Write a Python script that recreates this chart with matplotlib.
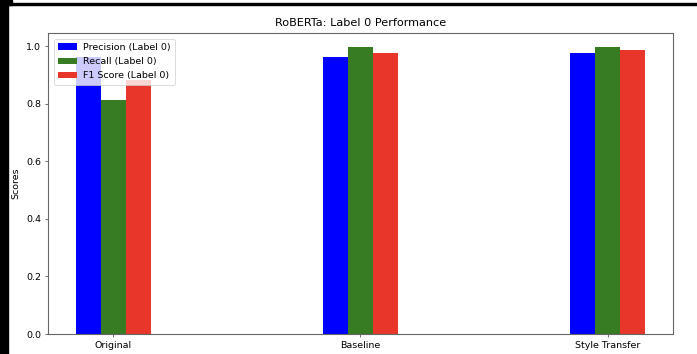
import matplotlib
matplotlib.use("Agg")
import matplotlib.pyplot as plt
import numpy as np

categories = ["Original", "Baseline", "Style Transfer"]
precision = [0.965, 0.962, 0.978]
recall = [0.815, 0.997, 0.997]
f1_score = [0.884, 0.979, 0.987]

series_labels = ["Precision (Label 0)", "Recall (Label 0)", "F1 Score (Label 0)"]
series_colors = ["#0000ff", "#377b23", "#e8372a"]

W, H = 697, 354
fig = plt.figure(figsize=(W / 100, H / 100), dpi=100)

# dark frame edges around the chart area
fig.patches.append(plt.Rectangle((0, 0), 8 / W, 1, transform=fig.transFigure,
                                 color="black", zorder=0))
fig.patches.append(plt.Rectangle((0, 1 - 5 / H), 1, 1.6 / H, transform=fig.transFigure,
                                 color="black", zorder=0))
fig.patches.append(plt.Rectangle((0, 1 - 5 / H), 12 / W, 5 / H, transform=fig.transFigure,
                                 color="black", zorder=0))

left, right, top, bottom = 48, 673, 33, 334
ax = fig.add_axes([left / W, (H - bottom) / H, (right - left) / W, (bottom - top) / H])

x = np.arange(len(categories))
width = 0.1
for i, (vals, lab, col) in enumerate(zip([precision, recall, f1_score], series_labels, series_colors)):
    ax.bar(x + (i - 1) * width, vals, width, label=lab, color=col)

ax.set_xticks(x)
ax.set_xticklabels(categories, fontsize=6.8)
ax.tick_params(axis="y", labelsize=6.8)
ax.tick_params(length=2.4, width=0.6, color="#555555", pad=2.5)
ax.set_ylabel("Scores", fontsize=6.8, labelpad=4)
ax.set_title("RoBERTa: Label 0 Performance", fontsize=8.1, pad=5)
for s in ax.spines.values():
    s.set_linewidth(0.8)
    s.set_color("#666666")

leg = ax.legend(loc="upper left", fontsize=6.8, handlelength=2.0, borderpad=0.45,
                labelspacing=0.55, handletextpad=0.7, borderaxespad=0.6)
leg.get_frame().set_linewidth(0.6)

fig.savefig("out.png", dpi=100)
